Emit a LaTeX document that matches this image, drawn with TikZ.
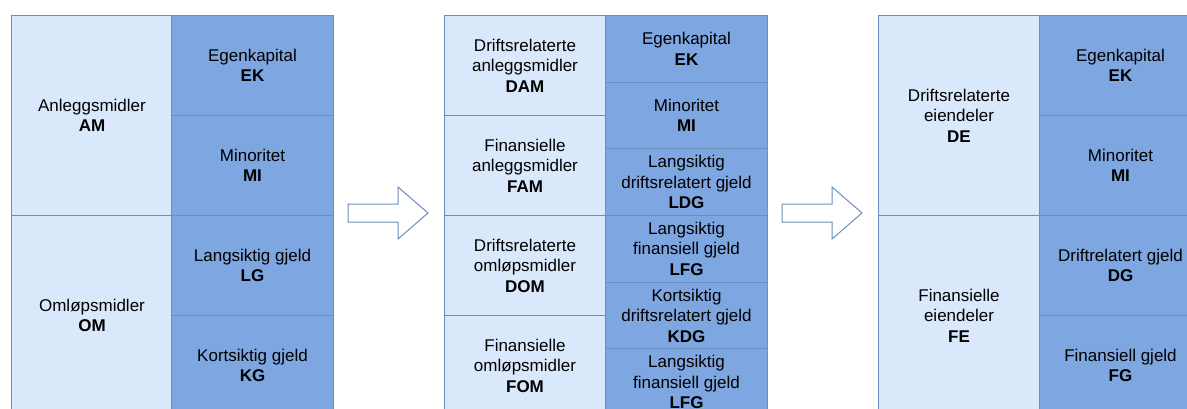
\documentclass[tikz,border=0pt]{standalone}
\usepackage{fontspec}
\setmainfont{Liberation Sans}
\definecolor{lightfill}{HTML}{DAE8FC}
\definecolor{darkfill}{HTML}{7EA6E0}
\definecolor{edgeblue}{HTML}{6C8EBF}
\tikzset{
  cell/.style={draw=edgeblue, line width=1pt, anchor=north west, inner sep=0pt,
    align=center, font=\fontsize{17}{20.5}\selectfont, text=black},
  asset/.style={cell, fill=lightfill, minimum width=161pt},
  claim/.style={cell, fill=darkfill, minimum width=162pt},
  big/.style={minimum height=200pt},
  mid/.style={minimum height=100pt},
  small/.style={minimum height=66.67pt},
  bigarrow/.style={draw=edgeblue, line width=1pt, fill=white}
}
\begin{document}
\begin{tikzpicture}[x=1pt,y=-1pt]
\useasboundingbox (0,0) rectangle (1187,408);
\clip (0,0) rectangle (1187,408);
% Panel 1
\node[asset,big] (am) at (11,15) {Anleggsmidler\\\textbf{AM}};
\node[asset,big] (om) at (11,215) {Omløpsmidler\\\textbf{OM}};
\node[claim,mid] (ek1) at (171,15) {Egenkapital\\\textbf{EK}};
\node[claim,mid] (mi1) at (171,115) {Minoritet\\\textbf{MI}};
\node[claim,mid] (lg1) at (171,215) {Langsiktig gjeld\\\textbf{LG}};
\node[claim,mid] (kg1) at (171,315) {Kortsiktig gjeld\\\textbf{KG}};
% Arrow 1
\draw[bigarrow] (348,204) -- (398,204) -- (398,187) -- (428,213) -- (398,239) -- (398,222) -- (348,222) -- cycle;
% Panel 2
\node[asset,mid] (dam) at (444,15) {Driftsrelaterte\\anleggsmidler\\\textbf{DAM}};
\node[asset,mid] (fam) at (444,115) {Finansielle\\anleggsmidler\\\textbf{FAM}};
\node[asset,mid] (dom) at (444,215) {Driftsrelaterte\\omløpsmidler\\\textbf{DOM}};
\node[asset,mid] (fom) at (444,315) {Finansielle\\omløpsmidler\\\textbf{FOM}};
\node[claim,small] (ek2) at (605,15) {Egenkapital\\\textbf{EK}};
\node[claim,small] (mi2) at (605,81.67) {Minoritet\\\textbf{MI}};
\node[claim,small] (ldg) at (605,148.33) {Langsiktig\\driftsrelatert gjeld\\\textbf{LDG}};
\node[claim,small] (lfg) at (605,215) {Langsiktig\\finansiell gjeld\\\textbf{LFG}};
\node[claim,small] (kdg) at (605,281.67) {Kortsiktig\\driftsrelatert gjeld\\\textbf{KDG}};
\node[claim,small] (lfgb) at (605,348.33) {Langsiktig\\finansiell gjeld\\\textbf{LFG}};
% Arrow 2
\draw[bigarrow] (782,204) -- (832,204) -- (832,187) -- (862,213) -- (832,239) -- (832,222) -- (782,222) -- cycle;
% Panel 3
\node[asset,big] (de) at (878,15) {Driftsrelaterte\\eiendeler\\\textbf{DE}};
\node[asset,big] (fe) at (878,215) {Finansielle\\eiendeler\\\textbf{FE}};
\node[claim,mid] (ek3) at (1039,15) {Egenkapital\\\textbf{EK}};
\node[claim,mid] (mi3) at (1039,115) {Minoritet\\\textbf{MI}};
\node[claim,mid] (dg) at (1039,215) {Driftrelatert gjeld\\\textbf{DG}};
\node[claim,mid] (fg) at (1039,315) {Finansiell gjeld\\\textbf{FG}};
\end{tikzpicture}
\end{document}
